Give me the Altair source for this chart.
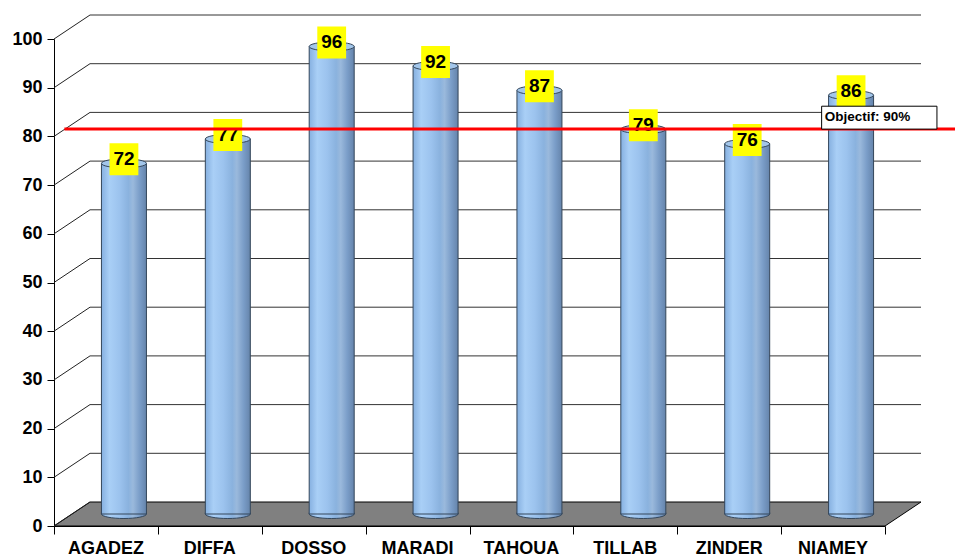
import altair as alt
import pandas as pd

# ---- data ----
regions = ["AGADEZ", "DIFFA", "DOSSO", "MARADI", "TAHOUA", "TILLAB", "ZINDER", "NIAMEY"]
values = [72, 77, 96, 92, 87, 79, 76, 86]
y_ticks = [0, 10, 20, 30, 40, 50, 60, 70, 80, 90, 100]
target_label = "Objectif: 90%"
target_line_y = 81.5          # where the red line is drawn on the front scale
target_line_x = [0.1, 8.9]    # extent of the red line (category units)

# ---- 3D frame geometry (in scale units) ----
N = len(regions)
W, H = 831, 487
DX = 36 / (W / N)   # depth shift in x units
DY = 24 / (H / 100) # depth shift in y units
HALF_W = 22.5 / (W / N)

xs = alt.Scale(domain=[0, N], range=[0, W], nice=False, zero=False)
ys = alt.Scale(domain=[0, 100], range=[H, 0], nice=False, zero=False)

bars = pd.DataFrame({
    "region": regions,
    "value": values,
    "xc": [i + 0.5 + DX / 2 for i in range(N)],
})
bars["x1"] = bars.xc - HALF_W
bars["x2"] = bars.xc + HALF_W
bars["top"] = bars.value + DY / 2
bars["bot"] = DY / 2
bars["lx"] = [i + 0.5 for i in range(N)]
bars["zero"] = 0

grid_vals = [v for v in y_ticks if v > 0]
diag = pd.DataFrame({"v": y_ticks, "x0": 0.0, "x1": DX})
diag["y0"] = diag.v
diag["y1"] = diag.v + DY
horiz = pd.DataFrame({"v": grid_vals, "x0": DX, "x1": N + DX})
horiz["yy"] = horiz.v + DY

floor = pd.DataFrame({
    "x": [0, DX, N, N + DX],
    "ytop": [0, DY, DY, DY],
    "ybot": [0, 0, 0, DY],
})
floor_outline = pd.DataFrame({
    "x": [0, DX, N + DX, N, 0],
    "y": [0, DY, DY, 0, 0],
    "o": [0, 1, 2, 3, 4],
})

target = pd.DataFrame({"x0": [target_line_x[0]], "x1": [target_line_x[1]], "y": [target_line_y]})
box = pd.DataFrame({"x0": [7.39], "x1": [8.50], "y0": [target_line_y], "y1": [target_line_y + 4.7],
                    "ty": [target_line_y + 2.4], "label": [target_label]})

base_axis_y = alt.Axis(values=y_ticks, grid=False, title=None, domainColor="black", tickColor="black",
                       tickSize=7, labelPadding=5, labelFont="Liberation Sans", labelFontSize=18,
                       labelFontWeight="bold", labelColor="black", domainWidth=1)
base_axis_x = alt.Axis(values=list(range(N + 1)), grid=False, title=None, labels=False,
                       domainColor="black", tickColor="black", tickSize=8)

floor_area = alt.Chart(floor).mark_area(color="#808080", opacity=1).encode(
    x=alt.X("x:Q", scale=xs, axis=base_axis_x),
    y=alt.Y("ytop:Q", scale=ys, axis=base_axis_y),
    y2="ybot:Q",
)
floor_line = alt.Chart(floor_outline).mark_line(color="black", strokeWidth=1).encode(
    x=alt.X("x:Q", scale=xs), y=alt.Y("y:Q", scale=ys), order="o:Q")

diag_lines = alt.Chart(diag).mark_rule(color="#222", strokeWidth=1).encode(
    x=alt.X("x0:Q", scale=xs), x2="x1:Q", y=alt.Y("y0:Q", scale=ys), y2="y1:Q")
horiz_lines = alt.Chart(horiz).mark_rule(color="#333", strokeWidth=1).encode(
    x=alt.X("x0:Q", scale=xs), x2="x1:Q", y=alt.Y("yy:Q", scale=ys))

grad = alt.Gradient(
    gradient="linear", x1=0, x2=1, y1=0, y2=0,
    stops=[
        alt.GradientStop(color="#86b0e0", offset=0.0),
        alt.GradientStop(color="#a9cff6", offset=0.18),
        alt.GradientStop(color="#9cc3ee", offset=0.4),
        alt.GradientStop(color="#8ab2de", offset=0.6),
        alt.GradientStop(color="#9ab9dc", offset=0.7),
        alt.GradientStop(color="#7a9dc8", offset=0.85),
        alt.GradientStop(color="#6584ab", offset=1.0),
    ],
)

body = alt.Chart(bars).mark_rect(fill=grad, stroke="#34465a", strokeWidth=1).encode(
    x=alt.X("x1:Q", scale=xs), x2="x2:Q", y=alt.Y("top:Q", scale=ys), y2="bot:Q")

bottom_cap = alt.Chart(bars).mark_point(
    shape="M -1 -0.06 L -1 0 A 1 0.2 0 0 0 1 0 L 1 -0.06",
    size=2025, filled=True, fill=grad, stroke="#34465a", strokeWidth=1, opacity=1,
).encode(x=alt.X("xc:Q", scale=xs), y=alt.Y("bot:Q", scale=ys))

top_cap = alt.Chart(bars).mark_point(
    shape="M -1 0 A 1 0.2 0 1 0 1 0 A 1 0.2 0 1 0 -1 0 Z",
    size=2025, filled=True, fill="#a3c6ea", stroke="#34465a", strokeWidth=1, opacity=1,
).encode(x=alt.X("xc:Q", scale=xs), y=alt.Y("top:Q", scale=ys))

label_box = alt.Chart(bars).mark_point(
    shape="M -0.9 -1 L 0.9 -1 L 0.9 1 L -0.9 1 Z", size=1024, filled=True,
    fill="#ffff00", strokeWidth=0, opacity=1, yOffset=-4,
).encode(x=alt.X("xc:Q", scale=xs), y=alt.Y("top:Q", scale=ys))

label_text = alt.Chart(bars).mark_text(
    font="Liberation Sans", fontSize=19, fontWeight="bold", color="black", baseline="middle", dy=-4,
).encode(x=alt.X("xc:Q", scale=xs), y=alt.Y("top:Q", scale=ys), text="value:Q")

cat_text = alt.Chart(bars).mark_text(
    font="Liberation Sans", fontSize=18, fontWeight="bold", color="black", baseline="middle", dy=23,
).encode(x=alt.X("lx:Q", scale=xs), y=alt.Y("zero:Q", scale=ys), text="region:N")

red = alt.Chart(target).mark_rule(color="#ff0000", strokeWidth=3).encode(
    x=alt.X("x0:Q", scale=xs), x2="x1:Q", y=alt.Y("y:Q", scale=ys))

obj_box = alt.Chart(box).mark_rect(fill="white", stroke="black", strokeWidth=1).encode(
    x=alt.X("x0:Q", scale=xs), x2="x1:Q", y=alt.Y("y0:Q", scale=ys), y2="y1:Q")
obj_text = alt.Chart(box).mark_text(
    font="Liberation Sans", fontSize=13.5, fontWeight="bold", color="black", align="left",
    baseline="middle", dx=3).encode(
    x=alt.X("x0:Q", scale=xs), y=alt.Y("ty:Q", scale=ys), text="label:N")

chart = alt.layer(
    floor_area, floor_line, diag_lines, horiz_lines,
    bottom_cap, body, top_cap, label_box, label_text, red, obj_box, obj_text, cat_text,
).properties(
    width=W, height=H,
    autosize=alt.AutoSizeParams(type="none"),
    padding={"left": 46, "top": 31, "right": 70, "bottom": 31},
    background="white",
).configure_view(stroke=None)

chart.save("out.html", embed_options={"renderer": "svg", "actions": False})
